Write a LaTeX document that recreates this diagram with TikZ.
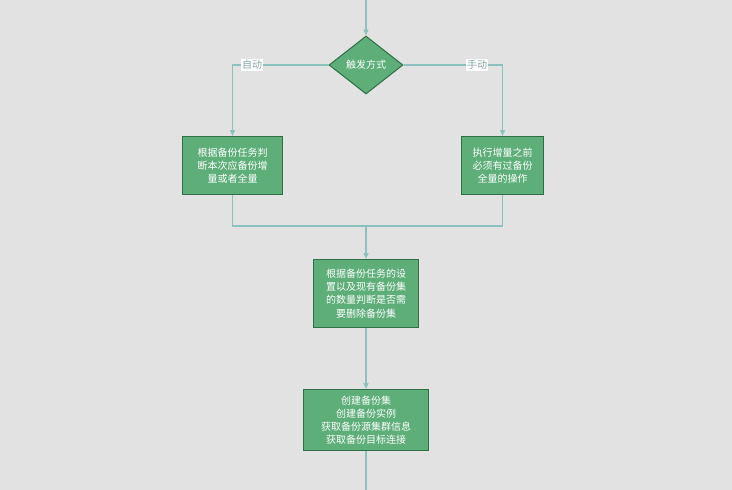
\documentclass[tikz,border=0pt]{standalone}
\usepackage{fontspec}
\setmainfont{Noto Sans CJK SC}
\usetikzlibrary{shapes.geometric,arrows.meta}
\definecolor{bg}{HTML}{E1E2E1}
\definecolor{boxfill}{HTML}{5DAE79}
\definecolor{boxline}{HTML}{2F6F45}
\definecolor{conn}{HTML}{8CC2BE}
\tikzset{
  stepbox/.style={draw=boxline, line width=1pt, fill=boxfill, text=white, font=\fontsize{10}{13.2}\selectfont, align=center, inner sep=0pt, anchor=north west},
  decide/.style={diamond, draw=boxline, line width=1pt, fill=boxfill, text=white, font=\fontsize{10}{12}\selectfont, minimum width=74pt, minimum height=58pt, inner sep=0pt},
  link/.style={draw=conn, line width=1.2pt},
  arr/.style={link, -{Triangle[length=6pt,width=5pt]}},
  lbl/.style={fill=white, text=conn!60!gray, font=\fontsize{10}{12}\selectfont, inner sep=1pt}
}
\begin{document}
\begin{tikzpicture}[x=1pt,y=-1pt]
\fill[bg] (0,0) rectangle (732,490);
\useasboundingbox (0,0) rectangle (732,490);
\coordinate (top) at (366,0);
\node[decide] (d) at (366,65) {触发方式};
\node[stepbox, minimum width=100pt, minimum height=58pt] (b1) at (182,136) {根据备份任务判\\断本次应备份增\\量或者全量};
\node[stepbox, minimum width=82pt, minimum height=58pt] (b2) at (461,136) {执行增量之前\\必须有过备份\\全量的操作};
\node[stepbox, minimum width=105pt, minimum height=68pt] (b3) at (313,259) {根据备份任务的设\\置以及现有备份集\\的数量判断是否需\\要删除备份集};
\node[stepbox, minimum width=125pt, minimum height=61pt] (b4) at (303,389) {创建备份集\\创建备份实例\\获取备份源集群信息\\获取备份目标连接};
\coordinate (bot) at (366,490);
\coordinate (mj) at (366,226);
\draw[arr] (top) -- (d.north);
\draw[arr] (d.west) -| (b1.north);
\draw[arr] (d.east) -| (b2.north);
\node[lbl] at (252,65) {自动};
\node[lbl] at (477,65) {手动};
\draw[link] (b1.south) |- (mj);
\draw[link] (b2.south) |- (mj);
\draw[arr] (mj) -- (b3.north);
\draw[arr] (b3.south) -- (b4.north);
\draw[link] (b4.south) -- (bot);
\end{tikzpicture}
\end{document}
